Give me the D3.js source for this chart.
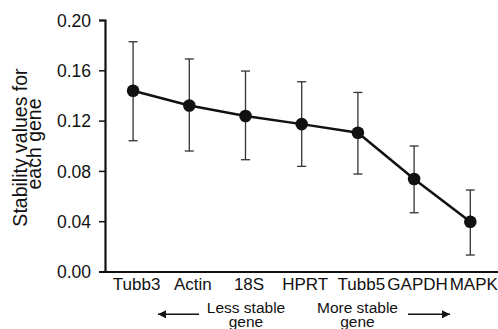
<!DOCTYPE html>
<html><head><meta charset="utf-8">
<script src="https://cdn.jsdelivr.net/npm/d3@7"></script>
<style>body{margin:0;background:#fff}svg{display:block}text{font-family:"Liberation Sans",Arial,Helvetica,sans-serif;fill:#111}</style>
</head><body>
<script>
const genes = ["Tubb3","Actin","18S","HPRT","Tubb5","GAPDH","MAPK"];
const stability = [0.1437,0.132,0.1236,0.1172,0.1103,0.0735,0.0396];
const errLow = [0.104,0.0958,0.0889,0.0836,0.0775,0.0467,0.0131];
const errHigh = [0.1827,0.169,0.1594,0.1509,0.1424,0.0998,0.0648];
const yTicks = [0.00,0.04,0.08,0.12,0.16,0.20];

const W=498,H=329;
const svg=d3.select("body").append("svg").attr("width",W).attr("height",H);
const x=d3.scaleBand().domain(genes).range([105,498.4]);
const y=d3.scaleLinear().domain([0,0.2]).range([271.5,20]);
const cx=g=>x(g)+x.bandwidth()/2;
const FF="Liberation Sans, Arial, sans-serif";

// y axis
const ya=svg.append("g").attr("transform","translate(105,0)")
  .call(d3.axisLeft(y).tickValues(yTicks).tickFormat(d3.format(".2f")).tickSize(6).tickPadding(8));
ya.select(".domain").attr("stroke","#111").attr("stroke-width",2.2);
ya.selectAll(".tick line").attr("stroke","#111").attr("stroke-width",1.5);
ya.selectAll(".tick text").attr("font-size",17.5).attr("font-family",FF).attr("fill","#111").attr("dy","0.36em");

// x axis
const xa=svg.append("g").attr("transform","translate(0,271.5)")
  .call(d3.axisBottom(x).tickSize(0).tickPadding(6));
xa.select(".domain").attr("stroke","#111").attr("stroke-width",2.2);
xa.selectAll(".tick text").attr("font-size",17).attr("font-family",FF).attr("fill","#111").attr("dx",3.5);

// error bars
const eb=svg.append("g").attr("stroke","#333").attr("stroke-width",1.3);
genes.forEach((g,i)=>{
  const c=cx(g);
  eb.append("line").attr("x1",c).attr("x2",c).attr("y1",y(errLow[i])).attr("y2",y(errHigh[i]));
  eb.append("line").attr("x1",c-4.5).attr("x2",c+4.5).attr("y1",y(errLow[i])).attr("y2",y(errLow[i]));
  eb.append("line").attr("x1",c-4.5).attr("x2",c+4.5).attr("y1",y(errHigh[i])).attr("y2",y(errHigh[i]));
});

// line
const pts=genes.map((g,i)=>[cx(g),y(stability[i])]);
svg.append("path").attr("d",d3.line()(pts)).attr("fill","none").attr("stroke","#111").attr("stroke-width",2.5);
svg.append("g").selectAll("circle").data(pts).join("circle")
  .attr("cx",d=>d[0]).attr("cy",d=>d[1]).attr("r",6.3).attr("fill","#111");

// y label (two lines)
svg.append("text").attr("transform","translate(26.7,147.5) rotate(-90)").attr("text-anchor","middle").attr("font-size",19.5).text("Stability values for");
svg.append("text").attr("transform","translate(41,144) rotate(-90)").attr("text-anchor","middle").attr("font-size",19.5).text("each gene");

// stability annotations
function note(cxp,l1,l2){
  svg.append("text").attr("x",cxp).attr("y",313.3).attr("text-anchor","middle").attr("font-size",15.5).text(l1);
  svg.append("text").attr("x",cxp).attr("y",327).attr("text-anchor","middle").attr("font-size",15.5).text(l2);
}
note(246,"Less stable","gene");
note(357.5,"More stable","gene");

svg.append("defs").append("marker").attr("id","ah").attr("viewBox","0 0 10 10").attr("refX",10).attr("refY",5)
  .attr("markerWidth",9).attr("markerHeight",8).attr("markerUnits","userSpaceOnUse").attr("orient","auto")
  .append("path").attr("d","M0,0L10,5L0,10Z").attr("fill","#111");
svg.append("line").attr("x1",199).attr("x2",158).attr("y1",314.3).attr("y2",314.3).attr("stroke","#111").attr("stroke-width",1.4).attr("marker-end","url(#ah)");
svg.append("line").attr("x1",408).attr("x2",450).attr("y1",314.3).attr("y2",314.3).attr("stroke","#111").attr("stroke-width",1.4).attr("marker-end","url(#ah)");
</script>
</body></html>
